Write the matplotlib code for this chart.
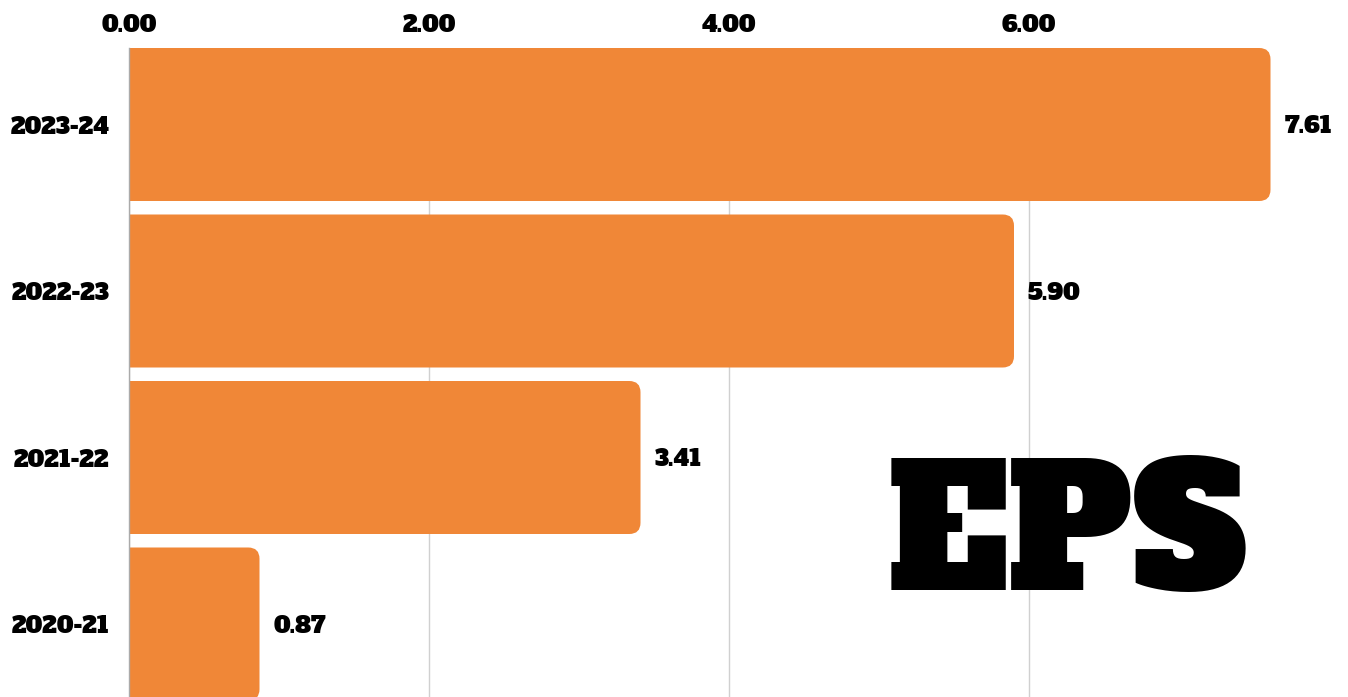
import matplotlib
matplotlib.use("Agg")
import matplotlib.pyplot as plt
from matplotlib.patches import FancyBboxPatch

categories = ["2023-24", "2022-23", "2021-22", "2020-21"]
values = [7.61, 5.90, 3.41, 0.87]
xticks = [0, 2, 4, 6]
xtick_labels = ["0.00", "2.00", "4.00", "6.00"]
title_text = "EPS"

W, H = 1348, 697
fig = plt.figure(figsize=(W / 100, H / 100), dpi=100)
ax_left, ax_top = 129, 48
ax = fig.add_axes([ax_left / W, 0, 1 - ax_left / W, (H - ax_top) / H])

bar_color = "#F08737"
font = ["Alfa Slab One", "DejaVu Sans"]
lab_size = 16.3
px_per_x = 150.0
px_per_y = 166.5
bar_h = 153 / px_per_y

ax.set_xlim(0, (W - ax_left) / px_per_x)
ax.set_ylim(-bar_h / 2 + (H - ax_top) / px_per_y, -bar_h / 2)

ypos = list(range(len(categories)))
bars = ax.barh(ypos, values, height=bar_h, color=bar_color, zorder=2)
for b in bars:
    x0, y0 = b.get_x(), b.get_y()
    w, h = b.get_width(), b.get_height()
    ext = 0.3
    p = FancyBboxPatch((x0 - ext, y0), w + ext, h,
                       boxstyle="round,pad=0,rounding_size=0.075",
                       mutation_aspect=px_per_x / px_per_y,
                       facecolor=bar_color, edgecolor="none", zorder=2)
    ax.add_patch(p)
    b.set_visible(False)

for y, v in zip(ypos, values):
    ax.annotate(f"{v:.2f}", xy=(v, y), xytext=(10, -1.5), textcoords="offset points",
                ha="left", va="center", fontsize=lab_size,
                family=font, color="black")

ax.xaxis.tick_top()
ax.set_xticks(xticks)
ax.set_xticklabels(xtick_labels)
ax.set_yticks(ypos)
ax.set_yticklabels(categories)
ax.tick_params(axis="both", length=0)
ax.tick_params(axis="x", pad=8)
ax.tick_params(axis="y", pad=14)
for lab in ax.get_xticklabels() + ax.get_yticklabels():
    lab.set_family(font)
    lab.set_fontsize(lab_size)
    lab.set_color("black")

ax.grid(axis="x", color="#d0d0d0", linewidth=1, zorder=0)
ax.set_axisbelow(True)
for s in ["top", "right", "bottom"]:
    ax.spines[s].set_visible(False)
ax.spines["left"].set_color("#aaaaaa")
ax.spines["left"].set_linewidth(1)
ax.spines["left"].set_zorder(3)

fig.text(1068 / W, 1 - 590 / H, title_text, ha="center", va="baseline",
         fontsize=122, family=["Alfa Slab One"], color="black")

fig.savefig("out.png", dpi=100)
